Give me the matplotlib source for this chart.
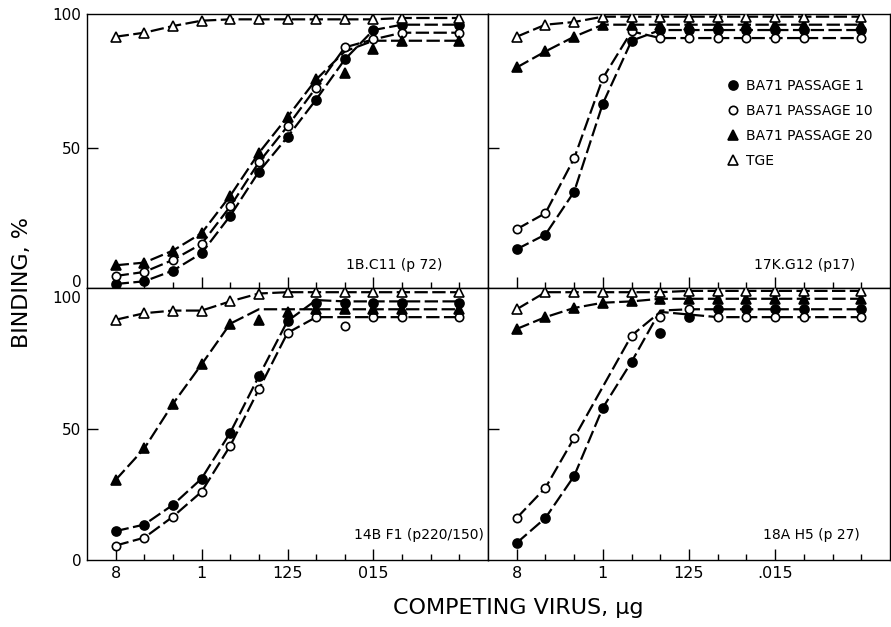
import numpy as np
import matplotlib
matplotlib.use('Agg')
import matplotlib.pyplot as plt
from matplotlib.ticker import FixedLocator, FixedFormatter, NullFormatter
from matplotlib.lines import Line2D

nan = np.nan

# competing virus, ug (two-fold dilutions)
doses = np.array([8, 4, 2, 1, 0.5, 0.25, 0.125, 0.0625, 0.03125,
                  0.015625, 0.0078125, 0.00390625, 0.001953125])
major_doses = [8, 1, 0.125, 0.015625]
labels_left = ['8', '1', '125', '015']
labels_right = ['8', '1', '125', '.015']

series_names = ['BA71 PASSAGE 1', 'BA71 PASSAGE 10', 'BA71 PASSAGE 20', 'TGE']

# 1B.C11 (p 72)
c11_p1 = [-1, 0, 4, 10.5, 24.5, 41, 54, 68, 83, 94, 96, nan, 96]
c11_p10 = [2, 3.5, 8, 14, 28, 44.5, 58, 72.5, 87.5, 90.5, 93, nan, 93]
c11_p20 = [6, 7, 11.5, 18, 32, 48, 61.5, 75.5, 78, 87, 90, nan, 90]
c11_tge = [91.5, 93, 95.5, 97.5, 98, 98, 98, 98, 98, 98, 98.5, nan, 98.5]
c11_p20_curve = [6, 7, 11.5, 18, 32, 48, 61.5, 75.5, 86, 90, 90, 90, 90]

# 17K.G12 (p17)
g12_p1 = [12, 17.5, 33.5, 66.5, 90, 94, 94, 94, 94, 94, 94, nan, 94]
g12_p10 = [19.5, 25.5, 46, 76, 93.5, 91, 91, 91, 91, 91, 91, nan, 91]
g12_p20 = [80, 86, 91.5, 96, 96, 96, 96, 96, 96, 96, 96, nan, 96]
g12_tge = [91.5, 96, 97, 99, 99, 99, 99, 99, 99, 99, 99, nan, 99]

# 14B F1 (p220/150)
f1_p1 = [11, 13.5, 21, 31, 48.5, 70, 91, 98, 98, 98, 98, nan, 98]
f1_p10 = [5.5, 8.5, 16.5, 26, 43.5, 65, 86.5, 92.5, 89, 92.5, 92.5, nan, 92.5]
f1_p20 = [30.5, 42.5, 59.5, 74.5, 90, 91.5, 94.5, 95.5, 95.5, 95.5, 95.5, nan, 95.5]
f1_tge = [91.5, 94, 95, 95, 98.5, 101.5, 102, 102, 102, 102, 102, nan, 102]
f1_p1_curve = [11, 13.5, 21, 31, 48.5, 70, 91, 99, 98.5, 98.5, 98.5, 98.5, 98.5]
f1_p10_curve = [5.5, 8.5, 16.5, 26, 43.5, 65, 86.5, 92.5, 92.5, 92.5, 92.5, 92.5, 92.5]
f1_p20_curve = [30.5, 42.5, 59.5, 74.5, 90, 95.5, 95.5, 95.5, 95.5, 95.5, 95.5, 95.5, 95.5]

# 18A H5 (p 27)
h5_p1 = [6.5, 16, 32, 58, 75.5, 86.5, 92.5, 95.5, 95.5, 95.5, 95.5, nan, 95.5]
h5_p10 = [16, 27.5, 46.5, nan, 85.5, 92.5, 95.5, 92.5, 92.5, 92.5, 92.5, nan, 92.5]
h5_p20 = [88, 92.5, 96, 98, 98.5, 99.5, 99.5, 99.5, 99.5, 99.5, 99.5, nan, 99.5]
h5_tge = [95.5, 102, 102, 102, 102, 102, 102.5, 102.5, 102.5, 102.5, 102.5, nan, 102.5]
h5_p1_curve = [6.5, 16, 32, 58, 75.5, 95, 95.5, 95.5, 95.5, 95.5, 95.5, 95.5, 95.5]
h5_p10_curve = [16, 27.5, 46.5, 66, 85.5, 94.5, 93.5, 92.5, 92.5, 92.5, 92.5, 92.5, 92.5]

styles = [dict(marker='o', mfc='black', ms=6.5),
          dict(marker='o', mfc='white', ms=6),
          dict(marker='^', mfc='black', ms=7.5),
          dict(marker='^', mfc='white', ms=7)]

plt.rcParams['font.family'] = ['DejaVu Sans']

fig = plt.figure(figsize=(8.91, 6.27), dpi=100)
W, H = 891., 627.
xl, xm, xr = 87 / W, 488 / W, 890 / W
yt, ym, yb = 1 - 14 / H, 1 - 288 / H, 1 - 560 / H

ax_tl = fig.add_axes([xl, ym, xm - xl, yt - ym])
ax_tr = fig.add_axes([xm, ym, xr - xm, yt - ym])
ax_bl = fig.add_axes([xl, yb, xm - xl, ym - yb])
ax_br = fig.add_axes([xm, yb, xr - xm, ym - yb])

panels = [
    (ax_tl, [c11_p1, c11_p10, c11_p20, c11_tge], [None, None, c11_p20_curve, None], '1B.C11 (p 72)', 0.885),
    (ax_tr, [g12_p1, g12_p10, g12_p20, g12_tge], [None, None, None, None], '17K.G12 (p17)', 0.913),
    (ax_bl, [f1_p1, f1_p10, f1_p20, f1_tge], [f1_p1_curve, f1_p10_curve, f1_p20_curve, None], '14B F1 (p220/150)', 0.99),
    (ax_br, [h5_p1, h5_p10, h5_p20, h5_tge], [h5_p1_curve, h5_p10_curve, None, None], '18A H5 (p 27)', 0.925),
]

for ax, pts_list, curves, title, tx in panels:
    for pts, curve, st in zip(pts_list, curves, styles):
        y = np.array(pts, float)
        line = np.array(curve if curve is not None else pts, float)
        ok = ~np.isnan(line)
        ax.plot(doses[ok], line[ok], color='black', lw=1.6, dashes=(6, 2), zorder=2)
        ax.plot(doses, y, ls='none', marker=st['marker'], mfc=st['mfc'], mec='black',
                mew=1.2, ms=st['ms'], zorder=3)
    ax.set_xscale('log', base=2)
    ax.set_xlim(16, 8 / 2 ** 13)
    ax.xaxis.set_major_locator(FixedLocator(major_doses))
    ax.xaxis.set_minor_locator(FixedLocator([d for d in doses if d not in major_doses]))
    ax.xaxis.set_minor_formatter(NullFormatter())
    # 50 carries a tick mark, 0 and 100 only a label
    ax.yaxis.set_major_locator(FixedLocator([50]))
    ax.yaxis.set_minor_locator(FixedLocator([0, 100]))
    ax.tick_params(axis='both', which='major', direction='in', length=8, width=1, pad=4)
    ax.tick_params(axis='x', which='minor', direction='in', length=4, width=1)
    ax.tick_params(axis='y', which='minor', length=0, pad=4)
    for s in ax.spines.values():
        s.set_linewidth(1.0)
    ty = 0.084 if ax in (ax_tl, ax_tr) else 0.092
    ax.text(tx, ty, title, transform=ax.transAxes, ha='right', va='center', fontsize=10)

for ax in (ax_tl, ax_tr):
    ax.set_ylim(-2.5, 100)
    ax.xaxis.set_major_formatter(NullFormatter())
for ax in (ax_bl, ax_br):
    ax.set_ylim(0, 103.6)
ax_bl.xaxis.set_major_formatter(FixedFormatter(labels_left))
ax_br.xaxis.set_major_formatter(FixedFormatter(labels_right))
for ax in (ax_tr, ax_br):
    ax.yaxis.set_major_formatter(NullFormatter())
    ax.yaxis.set_minor_formatter(NullFormatter())
for ax in (ax_tl, ax_bl):
    ax.yaxis.set_major_formatter(FixedFormatter(['50']))
    ax.yaxis.set_minor_formatter(FixedFormatter(['0', '100']))
    ax.tick_params(axis='y', which='both', labelsize=11)
for ax in (ax_bl, ax_br):
    ax.tick_params(axis='x', labelsize=11.5, pad=4)

handles = [Line2D([], [], ls='none', marker=st['marker'], mfc=st['mfc'], mec='black',
                  mew=1.2, ms=st['ms']) for st in styles]
ax_tr.legend(handles, series_names, loc='upper left', bbox_to_anchor=(0.596, 0.763),
             frameon=False, borderpad=0, borderaxespad=0, handlelength=0.8,
             handletextpad=0.5, labelspacing=0.8, fontsize=10)

fig.text(0.025, 0.549, 'BINDING, %', rotation=90, ha='center', va='center', fontsize=16)
fig.text(0.582, 0.03, 'COMPETING VIRUS, µg', ha='center', va='center', fontsize=16)

fig.savefig('out.png', dpi=100)
